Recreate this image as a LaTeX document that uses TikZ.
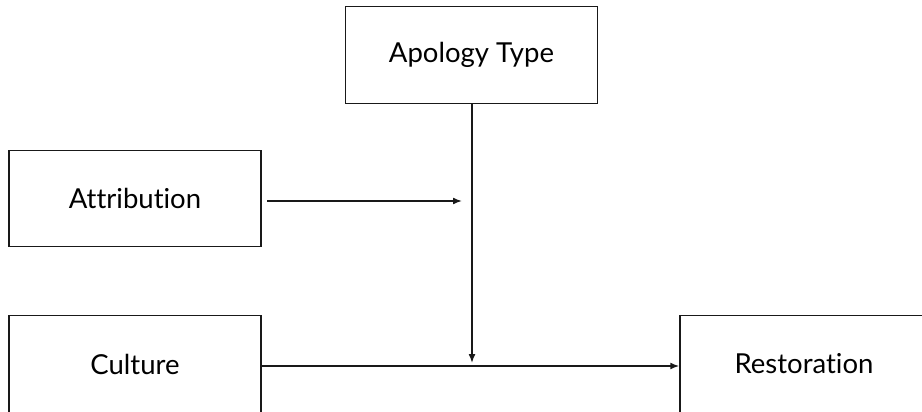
\documentclass[tikz,border=0pt]{standalone}
\usepackage{fontspec}
\setmainfont{Lato}[Ligatures={NoCommon,NoRequired,NoContextual}]
\usetikzlibrary{arrows.meta}
\tikzset{
  box/.style={draw=black!90, line width=1.5pt, rectangle, minimum width=252pt, minimum height=97pt, inner sep=0pt, font=\fontsize{27.5}{32}\selectfont},
  conn/.style={draw=black!90, line width=1.5pt, -{Latex[length=9pt,width=7pt]}},
}
\begin{document}
\begin{tikzpicture}[x=1pt,y=-1pt]
\useasboundingbox (0,0) rectangle (922,412);
\clip (0,0) rectangle (922,412);
\node[box] (apology) at (471.5,55) {Apology Type};
\node[box, minimum height=96pt] (attribution) at (135,198.5) {Attribution};
\node[box, minimum height=97pt] (culture) at (135,364) {Culture};
\node[box, minimum width=248pt, minimum height=97pt] (restoration) at (804,364) {Restoration};
\coordinate (attstart) at (267,201);
\coordinate (attend) at (462,201);
\coordinate (vend) at (472,363);
\draw[conn] (attstart) -- (attend);
\draw[conn] (apology.south -| vend) -- (vend);
\draw[conn] (culture.east |- 0,366) -- (restoration.west |- 0,366);
\end{tikzpicture}
\end{document}
